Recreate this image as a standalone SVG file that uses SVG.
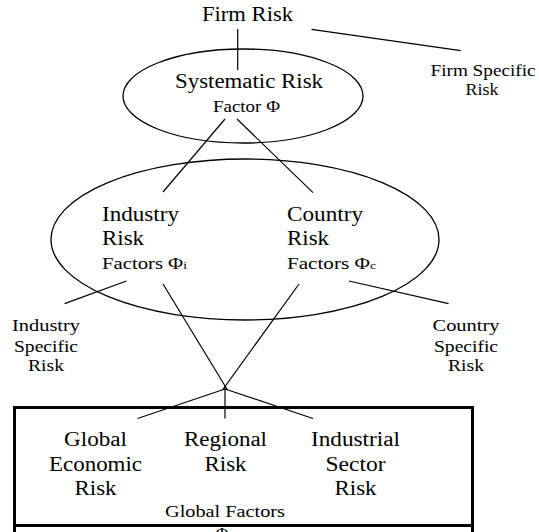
<svg xmlns="http://www.w3.org/2000/svg" width="539" height="532" viewBox="0 0 539 532">
  <style>
    text { font-family: "Liberation Serif", "Times New Roman", serif; fill: #000; }
    .big { font-size: 20px; }
    .mid { font-size: 17px; }
    .sm { font-size: 16.5px; }
    .c { text-anchor: middle; }
    .shape { fill: none; stroke: #000; stroke-width: 1.3; }
    .box { fill: none; stroke: #000; stroke-width: 3; }
    .link { stroke: #000; stroke-width: 1.2; fill: none; }
  </style>
  <rect width="539" height="532" fill="#fff"/>

  <!-- connectors -->
  <g id="connectors">
    <line class="link" x1="237.7" y1="29" x2="237.7" y2="70"/>
    <line class="link" x1="311.5" y1="29.3" x2="460.7" y2="50.7"/>
    <line class="link" x1="225" y1="119" x2="163" y2="192"/>
    <line class="link" x1="237" y1="119" x2="313" y2="192.6"/>
    <line class="link" x1="126.5" y1="281" x2="64.6" y2="303.6"/>
    <line class="link" x1="349" y1="281" x2="448.6" y2="303.6"/>
    <line class="link" x1="163" y1="284" x2="227.5" y2="390"/>
    <line class="link" x1="299" y1="284" x2="222.5" y2="390"/>
    <line class="link" x1="225" y1="386" x2="225" y2="418.5"/>
    <line class="link" x1="225" y1="389" x2="137.5" y2="418.5"/>
    <line class="link" x1="225" y1="389" x2="313" y2="418.5"/>
  </g>

  <!-- firm level -->
  <g id="firm-risk">
    <text class="big c" x="247.5" y="21" textLength="91" lengthAdjust="spacingAndGlyphs">Firm Risk</text>
  </g>
  <g id="firm-specific">
    <text class="sm c" x="483" y="76" textLength="105" lengthAdjust="spacingAndGlyphs">Firm Specific</text>
    <text class="sm c" x="482" y="95" textLength="33" lengthAdjust="spacingAndGlyphs">Risk</text>
  </g>

  <!-- systematic risk -->
  <g id="systematic-risk">
    <ellipse class="shape" cx="243" cy="96" rx="120" ry="47"/>
    <text class="big c" x="249" y="88" textLength="148" lengthAdjust="spacingAndGlyphs">Systematic Risk</text>
    <text class="mid c" x="246.5" y="111.5" textLength="67" lengthAdjust="spacingAndGlyphs">Factor Φ</text>
  </g>

  <!-- industry / country factors -->
  <g id="industry-country">
    <ellipse class="shape" cx="245" cy="239.5" rx="194" ry="80.5"/>
    <text class="big" x="102" y="221" textLength="77" lengthAdjust="spacingAndGlyphs">Industry</text>
    <text class="big" x="102" y="245" textLength="42" lengthAdjust="spacingAndGlyphs">Risk</text>
    <text class="mid" x="102" y="269" textLength="85" lengthAdjust="spacingAndGlyphs">Factors Φ<tspan font-size="11">i</tspan></text>
    <text class="big" x="287" y="221" textLength="76" lengthAdjust="spacingAndGlyphs">Country</text>
    <text class="big" x="287" y="245" textLength="42" lengthAdjust="spacingAndGlyphs">Risk</text>
    <text class="mid" x="287" y="269" textLength="89" lengthAdjust="spacingAndGlyphs">Factors Φ<tspan font-size="11">c</tspan></text>
  </g>

  <g id="industry-specific">
    <text class="mid c" x="46" y="331" textLength="68" lengthAdjust="spacingAndGlyphs">Industry</text>
    <text class="mid c" x="46" y="352" textLength="64" lengthAdjust="spacingAndGlyphs">Specific</text>
    <text class="mid c" x="46" y="371" textLength="36" lengthAdjust="spacingAndGlyphs">Risk</text>
  </g>
  <g id="country-specific">
    <text class="mid c" x="466" y="331" textLength="67" lengthAdjust="spacingAndGlyphs">Country</text>
    <text class="mid c" x="466" y="352" textLength="64" lengthAdjust="spacingAndGlyphs">Specific</text>
    <text class="mid c" x="466" y="371" textLength="36" lengthAdjust="spacingAndGlyphs">Risk</text>
  </g>

  <!-- global factors -->
  <g id="global-factors">
    <polyline class="box" points="14.5,532 14.5,407.5 472.5,407.5 472.5,532"/>
    <line class="box" x1="14.5" y1="525.5" x2="472.5" y2="525.5"/>
    <text class="big c" x="95.5" y="446" textLength="63" lengthAdjust="spacingAndGlyphs">Global</text>
    <text class="big c" x="95.5" y="471" textLength="93" lengthAdjust="spacingAndGlyphs">Economic</text>
    <text class="big c" x="95.5" y="494.5" textLength="42" lengthAdjust="spacingAndGlyphs">Risk</text>
    <text class="big c" x="225.5" y="446" textLength="83" lengthAdjust="spacingAndGlyphs">Regional</text>
    <text class="big c" x="225.5" y="471" textLength="42" lengthAdjust="spacingAndGlyphs">Risk</text>
    <text class="big c" x="355.5" y="446" textLength="89" lengthAdjust="spacingAndGlyphs">Industrial</text>
    <text class="big c" x="355.5" y="471" textLength="60" lengthAdjust="spacingAndGlyphs">Sector</text>
    <text class="big c" x="355.5" y="494.5" textLength="42" lengthAdjust="spacingAndGlyphs">Risk</text>
    <text class="mid c" x="225" y="517" textLength="120" lengthAdjust="spacingAndGlyphs">Global Factors</text>
    <text class="mid c" x="222" y="539">Φ</text>
  </g>
</svg>
